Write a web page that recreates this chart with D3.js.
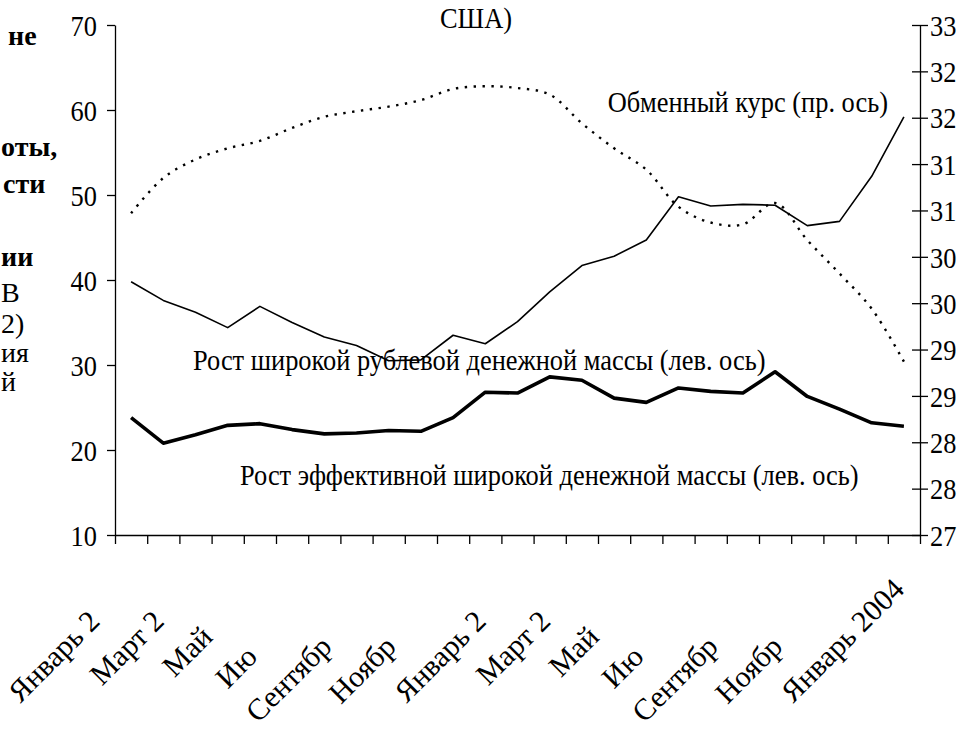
<!DOCTYPE html>
<html>
<head>
<meta charset="utf-8">
<script src="https://cdn.jsdelivr.net/npm/d3@7"></script>
<style>
  body { margin: 0; background: #fff; }
  svg { display: block; }
  svg text { font-family: "Liberation Serif", "DejaVu Serif", serif !important; fill: #000; }
</style>
</head>
<body>
<svg id="chart" width="969" height="733" font-family="Liberation Serif, serif"></svg>
<script>
  // months Jan 2002 .. Jan 2004
  const months = [
    "Январь 2002", "Февраль 2002", "Март 2002", "Апрель 2002", "Май 2002", "Июнь 2002",
    "Июль 2002", "Август 2002", "Сентябрь 2002", "Октябрь 2002", "Ноябрь 2002", "Декабрь 2002",
    "Январь 2003", "Февраль 2003", "Март 2003", "Апрель 2003", "Май 2003", "Июнь 2003",
    "Июль 2003", "Август 2003", "Сентябрь 2003", "Октябрь 2003", "Ноябрь 2003", "Декабрь 2003",
    "Январь 2004"
  ];
  // what is left visible of each labelled month (labels are clipped in the original)
  const shownLabels = {
    0: "Январь 2", 2: "Март 2", 4: "Май", 6: "Ию", 8: "Сентябр", 10: "Ноябр",
    12: "Январь 2", 14: "Март 2", 16: "Май", 18: "Ию", 20: "Сентябр", 22: "Ноябр",
    24: "Январь 2004"
  };

  const rubleM2 = [39.8, 37.6, 36.2, 34.4, 36.9, 35.0, 33.3, 32.3, 30.5, 30.6, 33.5, 32.5, 35.1,
    38.6, 41.7, 42.8, 44.7, 49.8, 48.7, 48.9, 48.8, 46.4, 46.9, 52.2, 59.2];
  const effectiveM2 = [23.8, 20.8, 21.8, 22.9, 23.1, 22.4, 21.9, 22.0, 22.3, 22.2, 23.8, 26.8, 26.7,
    28.6, 28.2, 26.1, 25.6, 27.3, 26.9, 26.7, 29.2, 26.3, 24.8, 23.2, 22.8];
  const exchangeRate = [30.47, 30.85, 31.05, 31.17, 31.25, 31.39, 31.51, 31.57, 31.62, 31.69, 31.81,
    31.84, 31.82, 31.75, 31.44, 31.17, 30.94, 30.54, 30.37, 30.35, 30.58, 30.18, 29.82, 29.44, 28.87];

  const leftTicks = [10, 20, 30, 40, 50, 60, 70];
  const rightTicks = d3.range(27, 32.51, 0.5);

  // fragments of the neighbouring page text, cut by the crop
  const sideText = [
    { t: "не", x: 8, y: 45, bold: true },
    { t: "оты,", x: 1, y: 156, bold: true },
    { t: "сти", x: 3, y: 193, bold: true },
    { t: "ии", x: 1, y: 266, bold: true },
    { t: "В", x: 1, y: 302, bold: false },
    { t: "2)", x: 1, y: 333, bold: false },
    { t: "ия", x: 1, y: 362, bold: false },
    { t: "й", x: 1, y: 391, bold: false }
  ];

(function () {
  const svg = d3.select("#chart");
  const serif = '"Liberation Serif", "DejaVu Serif", serif';
  const fontSize = 30;
  const squeeze = 0.88; // the original type is a little condensed
  const m = { left: 115, right: 920, top: 25, bottom: 535 };

  const x = d3.scaleBand().domain(d3.range(months.length)).range([m.left, m.right]).padding(0);
  const xTick = d3.scaleLinear().domain([0, months.length]).range([m.left, m.right]);
  const yLeft = d3.scaleLinear().domain([10, 70]).range([m.bottom, m.top]);
  const yRight = d3.scaleLinear().domain([27, 32.5]).range([m.bottom, m.top]);
  const cx = (i) => x(i) + x.bandwidth() / 2;

  function condense(sel) {
    sel.each(function () {
      const t = d3.select(this);
      const tx = +t.attr("x") || 0;
      t.attr("x", tx / squeeze).attr("transform", `scale(${squeeze},1)`);
    });
  }

  // left axis
  const gl = svg.append("g").attr("transform", `translate(${m.left},0)`)
    .call(d3.axisLeft(yLeft).tickValues(leftTicks).tickSizeInner(8).tickSizeOuter(0).tickPadding(10));
  // right axis, ticks cross the line
  const gr = svg.append("g").attr("transform", `translate(${m.right},0)`)
    .call(d3.axisRight(yRight).tickValues(rightTicks).tickSizeInner(8).tickSizeOuter(0).tickPadding(2)
      .tickFormat((d) => Math.round(d)));
  gr.selectAll(".tick line").attr("x1", -8);
  // bottom axis
  const gb = svg.append("g").attr("transform", `translate(0,${m.bottom})`)
    .call(d3.axisBottom(xTick).tickValues(d3.range(months.length + 1)).tickSizeInner(9).tickSizeOuter(0)
      .tickFormat(""));

  [gl, gr, gb].forEach((g) => {
    g.attr("font-family", serif);
    g.selectAll("path.domain").attr("stroke", "#000").attr("stroke-width", 1.3);
    g.selectAll(".tick line").attr("stroke", "#000").attr("stroke-width", 1.3);
    g.selectAll(".tick text").style("font-family", serif).style("font-size", fontSize + "px")
      .attr("dy", "0.34em").call(condense);
  });

  // rotated month labels: placed as the full name would be, only the visible part is written
  const labG = svg.append("g");
  Object.keys(shownLabels).forEach((k) => {
    const i = +k;
    const t = labG.append("text")
      .attr("transform", `translate(${cx(i) + 2},591) rotate(-45)`)
      .style("font-family", serif)
      .style("font-size", "30px")
      .attr("text-anchor", "start")
      .text(months[i]);
    const full = t.node().getComputedTextLength();
    t.attr("x", -full).text(shownLabels[k]);
  });

  // lines
  const lineL = d3.line().x((d, i) => cx(i)).y((d) => yLeft(d));
  const lineR = d3.line().x((d, i) => cx(i)).y((d) => yRight(d)).curve(d3.curveCatmullRom.alpha(0.5));

  svg.append("path").datum(exchangeRate).attr("d", lineR)
    .attr("fill", "none").attr("stroke", "#000").attr("stroke-width", 2.4).attr("stroke-dasharray", "2.4,6.5");
  svg.append("path").datum(rubleM2).attr("d", lineL)
    .attr("fill", "none").attr("stroke", "#000").attr("stroke-width", 1.6).attr("stroke-linejoin", "round");
  svg.append("path").datum(effectiveM2).attr("d", lineL)
    .attr("fill", "none").attr("stroke", "#000").attr("stroke-width", 3.6).attr("stroke-linejoin", "round");

  // annotations
  const notes = [
    { t: "США)", x: 476, y: 28, anchor: "middle" },
    { t: "Обменный курс (пр. ось)", x: 888, y: 112, anchor: "end" },
    { t: "Рост широкой рублевой денежной массы (лев. ось)", x: 193, y: 370, anchor: "start" },
    { t: "Рост эффективной широкой денежной массы (лев. ось)", x: 240, y: 485, anchor: "start" }
  ];
  svg.append("g").selectAll("text").data(notes).join("text")
    .attr("transform", (d) => `translate(${d.x},${d.y}) scale(${squeeze},1)`)
    .attr("text-anchor", (d) => d.anchor)
    .style("font-family", serif)
    .style("font-size", fontSize + "px")
    .text((d) => d.t);

  svg.append("g").selectAll("text").data(sideText).join("text")
    .attr("x", (d) => d.x).attr("y", (d) => d.y)
    .style("font-family", serif)
    .style("font-size", "28px").style("font-weight", (d) => (d.bold ? "bold" : "normal"))
    .text((d) => d.t);
})();
</script>
</body>
</html>
